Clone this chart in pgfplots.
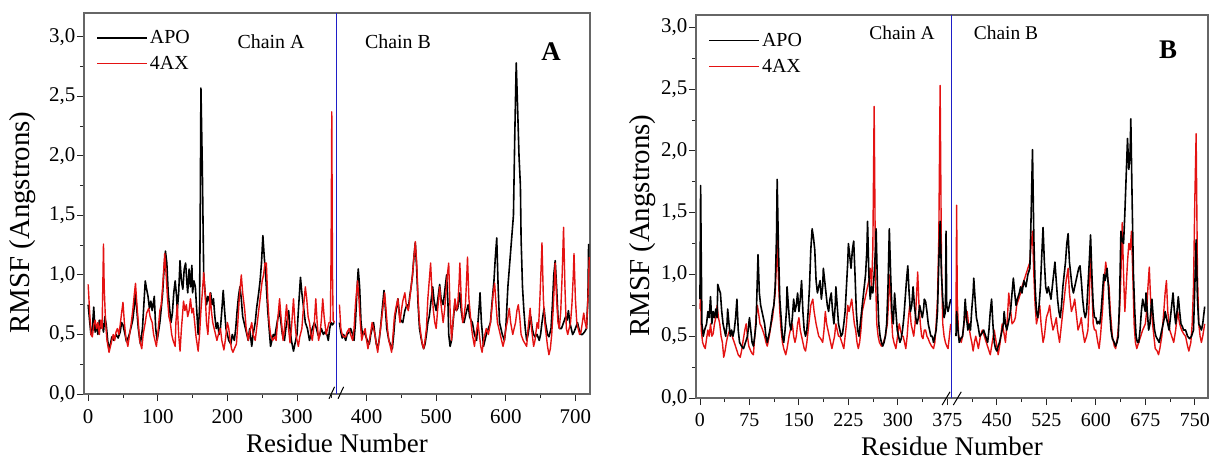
\documentclass[border=0pt]{standalone}
\usepackage{fontspec}
\setmainfont{Liberation Serif}
\usepackage{pgfplots}
\pgfplotsset{compat=1.18}
\definecolor{chainblue}{RGB}{30,30,200}
\definecolor{rmsfred}{RGB}{228,18,18}

\pgfplotsset{
  rmsf/.style={
    scale only axis, clip=false,
    axis line style={black!60, line width=1.1bp},
    ymin=0, ytick={0,0.5,...,3.0}, minor y tick num=1, minor x tick num=1,
    tick align=outside, xtick pos=bottom, ytick pos=left,
    major tick length=7bp, minor tick length=4bp,
    every tick/.style={black!85, line width=0.9bp},
    /pgf/number format/assume math mode=true,
    ticklabel style={font=\fontsize{21}{24}\selectfont},
    yticklabel style={inner sep=1.5bp, /pgf/number format/.cd, use comma, fixed, fixed zerofill, precision=1},
    xticklabel style={inner sep=2bp, yshift=-6bp},
    xlabel={Residue Number}, ylabel={RMSF (Angstrons)},
    xlabel style={font=\fontsize{27}{30}\selectfont, anchor=center},
    ylabel style={font=\fontsize{29}{32}\selectfont, anchor=center},
    legend style={draw=none, fill=none, inner sep=0pt, row sep=7bp,
      font=\fontsize{20}{22}\selectfont, anchor=north west},
    legend cell align=left,
    legend image code/.code={\draw[#1] (0bp,0bp) -- (50bp,0bp);},
  },
  apo/.style={black, line width=1.6bp, line join=round},
  ax/.style={rmsfred, line width=1.4bp, line join=round},
  chainline/.style={chainblue, line width=1.6bp, forget plot},
}

\begin{document}
\begin{tikzpicture}[x=1bp, y=1bp]
\useasboundingbox (0bp,0bp) rectangle (1211bp,459bp);

% ---------- panel A ----------
\begin{axis}[rmsf, at={(84bp,65bp)}, anchor=south west, width=506bp, height=381bp,
  xmin=-6, xmax=721, ymax=3.2, xtick={0,100,...,700},
  xlabel style={at={(axis description cs:0.5,-0.13)}},
  ylabel style={at={(axis description cs:-0.121,0.45)}},
  legend style={at={(axis description cs:0.024,0.96)}}]
\addlegendimage{apo}\addlegendentry{APO}
\addlegendimage{ax}\addlegendentry{4AX}
\addplot[apo, forget plot] coordinates {
(0,0.75) (2,0.62) (4,0.5) (6,0.55) (8,0.73) (10,0.52) (12,0.58) (14,0.5) (16,0.62) (18,0.55) (20,0.6) (22,0.52) (24,0.65) (26,0.58) (28,0.45) (30,0.38) (32,0.42) (34,0.48) (37,0.45) (40,0.5) (43,0.47) (46,0.52) (48,0.6) (50,0.58) (53,0.5) (55,0.44) (58,0.48) (60,0.52) (62,0.57) (64,0.62) (66,0.72) (68,0.85) (70,0.7) (72,0.55) (75,0.42) (78,0.55) (80,0.75) (82,0.95) (84,0.88) (86,0.82) (88,0.72) (90,0.78) (92,0.7) (95,0.82) (97,0.55) (99,0.45) (101,0.52) (103,0.6) (105,0.72) (107,0.85) (109,1.05) (111,1.2) (113,1.1) (115,0.85) (117,0.72) (119,0.6) (121,0.68) (123,0.85) (125,0.95) (127,0.82) (128,0.7) (130,0.85) (132,1.12) (134,0.95) (136,0.88) (138,1.05) (140,1.1) (142,0.92) (143,0.85) (145,1.05) (147,0.9) (149,1.08) (150,0.85) (152,0.95) (154,0.9) (156,0.7) (158,0.5) (160,0.72) (161,1.5) (162,2.57) (164,1.9) (166,1.0) (168,0.85) (170,0.75) (172,0.82) (174,0.78) (176,0.85) (178,0.75) (180,0.8) (182,0.65) (184,0.55) (186,0.6) (188,0.5) (190,0.55) (192,0.7) (194,0.87) (196,0.7) (198,0.55) (200,0.5) (202,0.45) (205,0.42) (207,0.5) (210,0.45) (212,0.55) (214,0.7) (216,0.82) (218,0.9) (220,0.8) (222,0.65) (224,0.6) (226,0.55) (228,0.5) (230,0.45) (232,0.55) (235,0.4) (237,0.5) (240,0.6) (242,0.72) (245,0.85) (247,0.95) (249,1.1) (251,1.33) (253,1.15) (255,1.0) (256,0.9) (258,0.7) (260,0.55) (262,0.4) (264,0.45) (266,0.5) (268,0.48) (270,0.55) (272,0.62) (275,0.7) (277,0.6) (279,0.5) (282,0.45) (284,0.55) (286,0.62) (288,0.7) (290,0.55) (292,0.45) (295,0.36) (297,0.42) (300,0.5) (302,0.7) (305,0.98) (307,0.85) (310,0.7) (312,0.6) (315,0.55) (318,0.45) (320,0.5) (322,0.55) (325,0.6) (328,0.55) (330,0.5) (332,0.48) (335,0.55) (338,0.5) (340,0.52) (343,0.5) (345,0.45) (347,0.55) (349,0.6) (351,0.58) (353,0.6)
};
\addplot[ax, forget plot] coordinates {
(0,0.92) (2,0.7) (4,0.5) (6,0.48) (8,0.58) (10,0.62) (12,0.55) (14,0.6) (16,0.5) (18,0.62) (20,0.55) (21,0.9) (22,1.26) (23,0.9) (25,0.6) (27,0.45) (30,0.35) (32,0.4) (34,0.45) (36,0.5) (38,0.45) (40,0.52) (42,0.55) (44,0.5) (46,0.58) (48,0.68) (50,0.77) (52,0.6) (54,0.48) (57,0.4) (59,0.48) (62,0.6) (64,0.7) (66,0.82) (68,0.93) (70,0.75) (72,0.6) (74,0.45) (77,0.38) (79,0.5) (82,0.6) (84,0.68) (87,0.72) (89,0.65) (92,0.6) (94,0.5) (96,0.45) (98,0.4) (100,0.5) (103,0.7) (105,0.75) (107,0.9) (110,1.18) (112,1.0) (114,0.8) (116,0.65) (118,0.6) (120,0.5) (122,0.45) (125,0.4) (126,0.6) (128,0.75) (130,0.5) (132,0.36) (134,0.55) (136,0.7) (137,0.78) (139,0.7) (141,0.75) (143,0.65) (145,0.7) (147,0.8) (149,0.68) (151,0.72) (153,0.6) (155,0.48) (158,0.36) (160,0.5) (162,0.7) (164,0.85) (166,1.02) (168,0.85) (170,0.6) (172,0.5) (174,0.7) (175,0.85) (177,0.7) (179,0.6) (181,0.55) (183,0.5) (185,0.45) (187,0.5) (190,0.55) (192,0.45) (195,0.37) (197,0.45) (200,0.6) (202,0.55) (204,0.45) (206,0.38) (208,0.35) (210,0.38) (213,0.42) (215,0.6) (217,0.8) (220,1.0) (222,0.85) (225,0.7) (227,0.55) (230,0.45) (232,0.52) (235,0.6) (237,0.5) (240,0.45) (243,0.6) (246,0.75) (248,0.85) (250,0.95) (252,1.0) (254,1.1) (256,1.1) (258,0.8) (260,0.6) (262,0.5) (265,0.45) (268,0.48) (270,0.45) (272,0.6) (275,0.8) (277,0.65) (280,0.45) (282,0.55) (285,0.75) (287,0.6) (290,0.43) (292,0.55) (295,0.8) (297,0.6) (299,0.48) (302,0.4) (304,0.48) (307,0.55) (309,0.7) (312,0.9) (314,0.8) (316,0.65) (318,0.6) (320,0.5) (322,0.45) (325,0.6) (327,0.8) (329,0.6) (331,0.45) (333,0.5) (335,0.62) (337,0.8) (339,0.65) (342,0.5) (344,0.55) (346,0.6) (348,0.6) (349,1.2) (350,2.37) (351,1.0) (352,0.62) (354,0.6)
};
\addplot[apo, forget plot] coordinates {
(361,0.6) (363,0.52) (365,0.47) (367,0.5) (370,0.45) (372,0.5) (375,0.52) (377,0.55) (380,0.5) (382,0.45) (384,0.6) (386,0.85) (388,1.05) (390,0.9) (392,0.6) (394,0.5) (396,0.52) (398,0.5) (401,0.45) (404,0.42) (406,0.5) (408,0.55) (410,0.6) (412,0.5) (414,0.42) (416,0.38) (418,0.45) (420,0.55) (422,0.68) (425,0.87) (427,0.72) (429,0.55) (432,0.45) (434,0.42) (437,0.38) (439,0.5) (441,0.65) (443,0.72) (445,0.8) (447,0.68) (449,0.62) (452,0.6) (455,0.7) (458,0.75) (460,0.72) (462,0.82) (464,0.9) (466,1.0) (468,1.15) (470,1.27) (472,1.05) (474,0.75) (476,0.55) (478,0.48) (480,0.42) (482,0.38) (484,0.42) (486,0.5) (488,0.6) (490,0.65) (492,0.75) (495,0.9) (497,0.78) (500,0.7) (502,0.78) (505,0.92) (507,0.8) (510,0.75) (512,0.85) (515,1.0) (517,0.75) (518,0.5) (520,0.4) (522,0.45) (525,0.65) (527,0.78) (529,0.7) (531,0.72) (534,0.85) (536,0.7) (538,0.62) (540,0.6) (543,0.68) (546,0.75) (548,0.65) (550,0.62) (552,0.6) (555,0.5) (558,0.45) (560,0.6) (562,0.75) (563,0.85) (565,0.6) (568,0.4) (570,0.45) (572,0.5) (575,0.55) (578,0.6) (580,0.75) (583,0.95) (585,1.15) (587,1.31) (589,0.9) (591,0.6) (593,0.55) (595,0.5) (598,0.45) (600,0.55) (603,0.9) (605,1.05) (607,1.2) (609,1.35) (611,1.5) (613,2.2) (615,2.78) (617,2.4) (619,2.0) (621,1.75) (622,1.3) (624,0.9) (626,0.7) (628,0.55) (630,0.45) (632,0.5) (634,0.58) (636,0.65) (638,0.55) (640,0.5) (642,0.48) (645,0.5) (648,0.45) (650,0.5) (652,0.6) (655,0.72) (657,0.6) (660,0.5) (662,0.48) (665,0.55) (667,0.75) (669,1.0) (671,1.12) (673,0.9) (675,0.65) (677,0.55) (680,0.55) (683,0.6) (686,0.65) (688,0.62) (690,0.7) (692,0.6) (694,0.55) (696,0.5) (698,0.52) (700,0.55) (703,0.6) (705,0.55) (708,0.5) (710,0.5) (713,0.52) (716,0.55) (718,0.8) (719,1.26)
};
\addplot[ax, forget plot] coordinates {
(361,0.75) (363,0.55) (365,0.5) (367,0.48) (370,0.48) (372,0.52) (375,0.55) (377,0.5) (380,0.45) (382,0.55) (384,0.75) (387,0.95) (389,0.8) (391,0.6) (393,0.45) (395,0.5) (398,0.55) (400,0.45) (402,0.38) (404,0.45) (406,0.52) (408,0.6) (410,0.55) (412,0.5) (414,0.42) (416,0.35) (418,0.45) (420,0.55) (422,0.65) (424,0.75) (426,0.85) (428,0.7) (430,0.55) (432,0.45) (434,0.4) (436,0.35) (438,0.5) (440,0.65) (442,0.72) (445,0.8) (447,0.65) (448,0.6) (450,0.7) (452,0.78) (455,0.85) (457,0.75) (460,0.7) (462,0.8) (464,0.9) (466,1.0) (468,1.15) (470,1.28) (472,1.1) (474,0.8) (476,0.6) (478,0.5) (480,0.42) (482,0.38) (484,0.45) (486,0.55) (488,0.8) (490,0.95) (492,1.1) (494,0.85) (496,0.7) (498,0.6) (500,0.55) (502,0.7) (505,0.9) (507,0.75) (510,0.6) (512,0.7) (514,0.85) (516,1.0) (518,1.1) (520,0.7) (522,0.45) (524,0.6) (527,0.8) (529,0.7) (531,0.75) (533,0.95) (534,1.1) (536,0.8) (538,0.6) (540,0.65) (542,0.75) (544,1.0) (545,1.15) (547,0.8) (550,0.6) (552,0.5) (555,0.4) (557,0.5) (560,0.6) (562,0.5) (564,0.4) (566,0.35) (568,0.45) (570,0.5) (572,0.55) (575,0.5) (578,0.6) (580,0.72) (582,0.85) (584,0.93) (586,0.75) (588,0.6) (590,0.55) (592,0.5) (594,0.45) (596,0.4) (598,0.45) (600,0.55) (602,0.6) (605,0.72) (607,0.6) (610,0.5) (612,0.55) (614,0.6) (616,0.7) (618,0.75) (620,0.65) (622,0.5) (625,0.45) (628,0.42) (630,0.4) (632,0.55) (635,0.72) (637,0.55) (640,0.4) (642,0.45) (645,0.6) (647,0.55) (649,0.8) (651,1.1) (652,1.27) (654,0.8) (656,0.6) (658,0.5) (660,0.4) (662,0.33) (664,0.38) (666,0.5) (668,0.7) (670,0.95) (671,1.1) (673,0.8) (675,0.6) (677,0.55) (679,0.7) (681,1.0) (683,1.4) (685,0.9) (687,0.55) (689,0.5) (691,0.55) (693,0.6) (695,0.75) (697,1.0) (698,1.18) (700,0.8) (702,0.6) (704,0.55) (706,0.5) (708,0.52) (710,0.6) (712,0.68) (714,0.6) (716,0.55) (718,0.8) (720,1.15)
};
\addplot[chainline] coordinates {(357,0) (357,3.2)};
\draw[black, line width=1bp] (axis cs:346,-0.04) -- (axis cs:354,0.06);
\draw[black, line width=1bp] (axis cs:359,-0.04) -- (axis cs:367,0.06);
\end{axis}

% ---------- panel B ----------
\begin{axis}[rmsf, at={(696bp,61bp)}, anchor=south west, width=512bp, height=383bp,
  xmin=-6, xmax=770, ymax=3.1, xtick={0,75,...,750},
  xticklabel style={font=\fontsize{20}{23}\selectfont},
  xlabel style={at={(axis description cs:0.5,-0.125)}},
  ylabel style={at={(axis description cs:-0.104,0.45)}},
  legend style={at={(axis description cs:0.024,0.958)}}]
\addlegendimage{apo}\addlegendentry{APO}
\addlegendimage{ax}\addlegendentry{4AX}
\addplot[ax, forget plot] coordinates {
(0,0.72) (1,0.85) (2,0.55) (4,0.45) (6,0.42) (8,0.4) (10,0.48) (12,0.55) (14,0.5) (16,0.6) (18,0.5) (20,0.52) (22,0.6) (24,0.65) (26,0.75) (28,0.65) (30,0.6) (32,0.5) (34,0.45) (36,0.33) (38,0.38) (40,0.45) (42,0.5) (45,0.55) (48,0.52) (50,0.48) (52,0.45) (55,0.4) (58,0.35) (61,0.33) (63,0.38) (65,0.45) (68,0.55) (70,0.6) (72,0.5) (74,0.42) (77,0.38) (79,0.36) (81,0.35) (83,0.5) (85,0.65) (87,0.75) (89,0.68) (91,0.6) (93,0.58) (95,0.55) (98,0.5) (100,0.45) (102,0.42) (105,0.5) (108,0.6) (110,0.65) (112,0.75) (114,0.85) (116,1.1) (117,1.3) (119,0.95) (121,0.7) (123,0.55) (125,0.45) (127,0.4) (130,0.35) (132,0.4) (135,0.5) (137,0.55) (140,0.6) (142,0.5) (144,0.45) (146,0.5) (148,0.6) (150,0.65) (152,0.55) (154,0.5) (156,0.45) (158,0.4) (160,0.38) (162,0.45) (164,0.55) (166,0.65) (168,0.75) (171,0.8) (173,0.7) (176,0.6) (178,0.55) (180,0.5) (183,0.48) (186,0.45) (188,0.55) (190,0.7) (192,0.6) (194,0.55) (196,0.5) (198,0.45) (200,0.4) (202,0.45) (204,0.5) (206,0.6) (208,0.55) (210,0.5) (212,0.5) (215,0.45) (218,0.4) (220,0.5) (222,0.6) (224,0.75) (226,0.7) (228,0.75) (230,0.8) (232,0.7) (234,0.6) (236,0.55) (238,0.45) (240,0.4) (242,0.45) (244,0.55) (246,0.7) (248,0.75) (250,0.8) (252,0.85) (254,0.9) (256,0.95) (258,1.05) (260,0.9) (262,1.2) (264,2.36) (266,1.0) (268,0.6) (270,0.5) (272,0.45) (275,0.42) (278,0.45) (281,0.5) (284,0.6) (286,0.8) (288,1.0) (290,0.7) (292,0.5) (294,0.45) (297,0.4) (299,0.48) (302,0.6) (304,0.55) (306,0.5) (308,0.5) (310,0.45) (312,0.4) (314,0.5) (316,0.65) (318,0.75) (320,0.6) (322,0.55) (324,0.5) (326,0.6) (328,0.8) (330,1.02) (332,0.75) (334,0.6) (336,0.5) (338,0.48) (340,0.55) (342,0.55) (344,0.5) (346,0.48) (348,0.45) (351,0.42) (354,0.4) (356,0.45) (358,0.6) (360,0.8) (362,1.3) (364,2.53) (366,1.1) (368,0.6) (370,0.5) (372,0.45) (374,0.42) (376,0.4) (378,0.5) (380,0.6)
};
\addplot[apo, forget plot] coordinates {
(0,0.8) (1,1.72) (2,1.1) (3,0.6) (5,0.5) (7,0.55) (10,0.6) (12,0.7) (14,0.65) (16,0.82) (18,0.6) (20,0.7) (22,0.65) (24,0.72) (26,0.65) (27,0.92) (29,0.88) (31,0.85) (33,0.7) (35,0.6) (37,0.55) (39,0.5) (41,0.6) (42,0.72) (44,0.6) (46,0.5) (48,0.55) (50,0.5) (52,0.55) (54,0.65) (56,0.8) (58,0.55) (60,0.45) (63,0.42) (66,0.4) (69,0.45) (72,0.5) (75,0.65) (77,0.55) (79,0.45) (81,0.42) (83,0.5) (85,0.6) (88,1.16) (90,0.85) (92,0.75) (94,0.7) (96,0.65) (98,0.6) (100,0.5) (102,0.45) (104,0.5) (106,0.55) (108,0.62) (110,0.7) (112,0.75) (114,0.9) (116,1.3) (117,1.77) (119,1.2) (121,0.8) (123,0.65) (125,0.5) (127,0.45) (129,0.55) (131,0.7) (132,0.9) (134,0.75) (136,0.6) (138,0.55) (140,0.65) (142,0.8) (144,0.7) (146,0.75) (148,0.85) (150,0.7) (152,0.8) (154,0.95) (156,0.7) (158,0.55) (160,0.5) (162,0.55) (164,0.7) (166,0.9) (168,1.2) (170,1.37) (172,1.3) (174,1.2) (176,0.95) (178,0.85) (180,0.9) (182,0.95) (184,0.8) (186,0.9) (187,1.05) (189,0.95) (191,0.85) (193,0.75) (195,0.7) (197,0.8) (199,0.85) (201,0.7) (203,0.6) (205,0.75) (206,0.9) (208,0.75) (210,0.6) (212,0.55) (214,0.5) (216,0.52) (218,0.6) (220,0.7) (222,0.9) (224,1.1) (225,1.25) (227,1.15) (229,1.05) (231,1.2) (233,1.27) (235,1.0) (237,0.7) (239,0.55) (241,0.5) (243,0.6) (245,0.7) (247,0.8) (249,0.9) (251,1.0) (253,1.2) (254,1.43) (256,1.0) (258,0.8) (260,0.9) (262,0.85) (264,1.0) (266,1.2) (267,1.37) (269,0.9) (271,0.6) (273,0.5) (275,0.45) (277,0.42) (279,0.45) (281,0.5) (283,0.6) (285,0.9) (287,1.37) (289,1.0) (291,0.7) (293,0.6) (295,0.85) (297,0.7) (299,0.55) (301,0.5) (303,0.45) (305,0.48) (307,0.55) (309,0.65) (311,0.8) (313,0.95) (315,1.07) (317,0.85) (319,0.7) (321,0.75) (323,0.9) (325,0.75) (327,0.65) (329,0.6) (331,0.65) (333,0.75) (335,0.7) (337,0.65) (339,0.72) (340,0.8) (342,0.78) (344,0.7) (346,0.6) (348,0.55) (350,0.5) (352,0.5) (354,0.45) (356,0.5) (358,0.55) (360,0.7) (362,1.1) (364,1.43) (366,1.0) (368,0.8) (370,0.65) (372,0.7) (373,1.35) (374,0.75) (376,0.7) (378,0.75) (380,0.8)
};
\addplot[ax, forget plot] coordinates {
(388,0.6) (389,1.56) (390,0.8) (392,0.5) (394,0.48) (396,0.45) (398,0.5) (400,0.6) (402,0.65) (405,0.7) (407,0.6) (410,0.5) (412,0.45) (414,0.38) (416,0.45) (418,0.5) (420,0.45) (422,0.4) (425,0.5) (428,0.55) (431,0.5) (434,0.45) (437,0.4) (440,0.35) (443,0.45) (446,0.55) (449,0.45) (452,0.35) (455,0.45) (458,0.6) (460,0.55) (463,0.45) (466,0.65) (468,0.85) (470,0.75) (473,0.6) (476,0.62) (478,0.65) (480,0.75) (483,0.8) (486,0.85) (488,0.9) (491,0.95) (494,1.0) (497,1.05) (500,1.1) (502,1.25) (504,1.35) (506,1.0) (508,0.75) (510,0.6) (512,0.65) (515,0.75) (517,0.6) (520,0.45) (522,0.5) (525,0.65) (528,0.7) (530,0.75) (532,0.65) (535,0.55) (538,0.6) (540,0.65) (542,0.55) (545,0.45) (548,0.6) (550,0.7) (552,0.8) (555,0.95) (558,1.05) (560,0.85) (563,0.7) (566,0.75) (568,0.8) (570,0.7) (573,0.55) (576,0.6) (578,0.65) (580,0.55) (583,0.45) (586,0.5) (588,0.55) (590,0.8) (592,1.2) (594,0.9) (596,0.6) (598,0.55) (600,0.55) (603,0.45) (605,0.4) (607,0.5) (610,0.7) (612,0.9) (615,1.1) (617,1.0) (620,0.9) (622,0.7) (625,0.5) (628,0.42) (630,0.4) (633,0.5) (636,0.7) (638,1.0) (640,1.42) (642,1.0) (644,0.7) (646,0.9) (648,1.1) (650,1.25) (652,1.2) (654,1.35) (656,1.0) (658,0.6) (660,0.45) (662,0.4) (665,0.45) (668,0.5) (671,0.55) (675,0.6) (677,0.7) (679,0.9) (681,1.06) (683,0.8) (686,0.6) (688,0.5) (690,0.4) (693,0.38) (695,0.35) (697,0.4) (700,0.5) (703,0.7) (705,0.85) (707,0.95) (709,0.7) (712,0.55) (715,0.5) (718,0.45) (721,0.55) (724,0.7) (727,0.6) (730,0.55) (733,0.52) (736,0.5) (739,0.42) (741,0.38) (744,0.45) (746,0.6) (748,0.9) (750,1.6) (752,2.14) (754,1.0) (756,0.6) (758,0.5) (760,0.45) (762,0.5) (765,0.6)
};
\addplot[apo, forget plot] coordinates {
(388,0.5) (389,0.7) (391,0.55) (393,0.45) (395,0.48) (398,0.5) (400,0.6) (402,0.8) (404,0.65) (406,0.55) (408,0.6) (410,0.55) (412,0.72) (414,0.85) (415,0.97) (417,0.8) (419,0.65) (421,0.6) (424,0.5) (427,0.52) (430,0.55) (433,0.5) (436,0.45) (438,0.55) (440,0.7) (442,0.8) (444,0.6) (446,0.45) (448,0.4) (450,0.38) (452,0.42) (454,0.45) (456,0.5) (458,0.55) (460,0.6) (461,0.7) (463,0.6) (465,0.55) (467,0.6) (469,0.65) (471,0.72) (473,0.85) (475,0.97) (477,0.85) (479,0.75) (481,0.8) (484,0.85) (486,0.9) (488,0.85) (491,0.95) (494,0.9) (497,1.0) (500,1.05) (502,1.5) (504,2.01) (506,1.3) (508,0.9) (510,0.7) (512,0.65) (514,0.75) (516,0.9) (518,1.15) (520,1.38) (522,1.1) (524,0.9) (526,0.85) (528,0.9) (530,0.85) (532,0.8) (534,0.9) (536,1.0) (538,1.1) (540,0.95) (542,0.8) (544,0.7) (546,0.65) (548,0.75) (550,0.9) (552,1.0) (554,1.1) (556,1.25) (558,1.33) (560,1.1) (562,1.0) (564,0.9) (566,0.85) (568,0.9) (570,0.95) (572,1.0) (574,1.05) (576,1.07) (578,0.95) (580,0.8) (582,0.7) (584,0.65) (586,0.7) (588,0.9) (590,1.1) (592,1.32) (594,1.0) (596,0.75) (598,0.65) (600,0.65) (602,0.6) (604,0.62) (606,0.6) (608,0.7) (610,0.85) (612,1.0) (614,0.95) (617,1.05) (619,0.9) (621,0.7) (623,0.55) (625,0.48) (628,0.45) (630,0.42) (632,0.45) (634,0.5) (636,0.8) (638,1.35) (640,1.28) (642,1.25) (644,1.5) (646,1.8) (648,2.1) (650,1.85) (652,2.0) (653,2.26) (655,1.6) (657,1.0) (659,0.7) (661,0.5) (663,0.45) (665,0.45) (667,0.55) (669,0.7) (671,0.8) (673,0.75) (675,0.7) (676,0.85) (678,0.7) (680,0.55) (682,0.6) (684,0.75) (685,0.8) (687,0.65) (689,0.55) (691,0.5) (693,0.48) (696,0.45) (698,0.5) (700,0.55) (702,0.6) (704,0.65) (705,0.7) (707,0.65) (709,0.6) (711,0.55) (713,0.65) (715,0.75) (717,0.85) (719,0.7) (721,0.6) (723,0.7) (725,0.82) (727,0.7) (729,0.6) (731,0.58) (733,0.55) (736,0.55) (739,0.5) (742,0.48) (745,0.5) (748,0.55) (750,0.9) (752,1.28) (754,0.8) (756,0.6) (758,0.58) (760,0.55) (762,0.6) (765,0.74)
};
\addplot[chainline] coordinates {(381,0) (381,3.1)};
\draw[black, line width=1bp] (axis cs:367,-0.057) -- (axis cs:379,0.05);
\draw[black, line width=1bp] (axis cs:384,-0.057) -- (axis cs:396,0.05);
\end{axis}

% ---------- annotations ----------
\node[font=\fontsize{20}{22}\selectfont, inner sep=0pt] at (271bp,417bp) {Chain A};
\node[font=\fontsize{20}{22}\selectfont, inner sep=0pt] at (398bp,417bp) {Chain B};
\node[font=\bfseries\fontsize{27}{30}\selectfont, inner sep=0pt] at (551bp,407bp) {A};
\node[font=\fontsize{19.5}{22}\selectfont, inner sep=0pt] at (902bp,426bp) {Chain A};
\node[font=\fontsize{19.5}{22}\selectfont, inner sep=0pt] at (1006bp,426bp) {Chain B};
\node[font=\bfseries\fontsize{27}{30}\selectfont, inner sep=0pt] at (1168bp,409bp) {B};
\end{tikzpicture}
\end{document}
